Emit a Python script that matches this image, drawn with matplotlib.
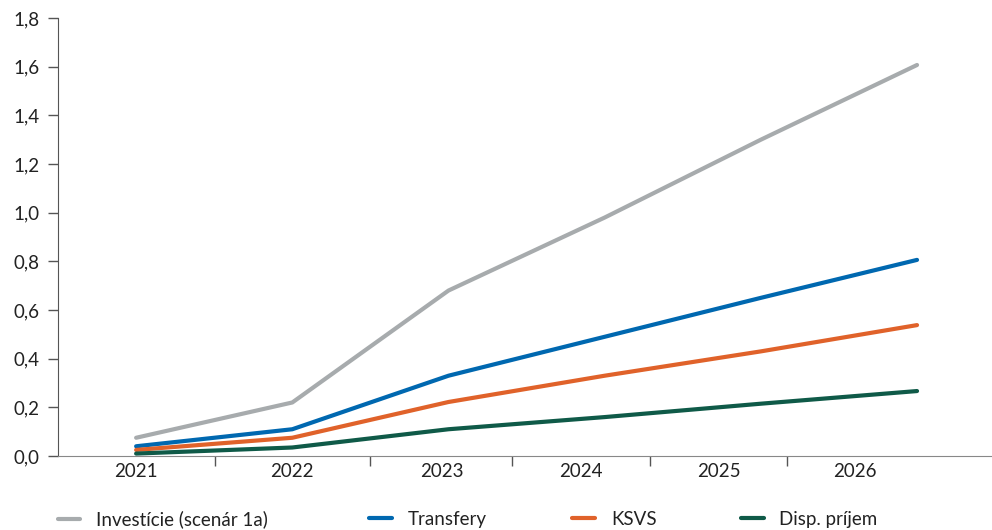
"""Vývoj efektov do roku 2026 - čiarový graf"""

import matplotlib.pyplot as plt
from matplotlib.lines import Line2D

plt.rcParams["font.family"] = ["Lato", "DejaVu Sans"]

# Údaje
roky = ["2021", "2022", "2023", "2024", "2025", "2026"]
investicie = [0.075, 0.22, 0.68, 0.98, 1.30, 1.607]
transfery = [0.04, 0.11, 0.33, 0.49, 0.65, 0.806]
ksvs = [0.025, 0.075, 0.222, 0.33, 0.43, 0.538]
disp_prijem = [0.01, 0.035, 0.11, 0.16, 0.215, 0.267]

nazvy = ["Investície (scenár 1a)", "Transfery", "KSVS", "Disp. príjem"]
farby = ["#A7ABAD", "#0068B0", "#E0622A", "#0F5A48"]

# Umiestnenie popisov a deliacich značiek osi x
pozicie_popisov = [0.0, 1.0, 1.96, 2.85, 3.73, 4.60]
pozicie_delenia = [0.505, 1.496, 2.404, 3.293, 4.169]

fig = plt.figure(figsize=(9.92, 5.30), dpi=100)
ax = fig.add_axes([0.0585, 0.1396, 0.9415, 0.8264])

x = range(len(roky))
for hodnoty, farba in zip([investicie, transfery, ksvs, disp_prijem], farby):
    ax.plot(x, hodnoty, color=farba, linewidth=3.0, solid_capstyle="round")

# Osi
ax.set_xlim(-0.5, 5.48)
ax.set_ylim(0, 1.8)
ax.set_yticks([i / 10 for i in range(0, 19, 2)])
ax.set_yticklabels([f"{i / 10:.1f}".replace(".", ",") for i in range(0, 19, 2)])

ax.set_xticks(pozicie_popisov)
ax.set_xticklabels(roky)
ax.set_xticks(pozicie_delenia, minor=True)
ax.tick_params(axis="x", which="major", length=0, pad=5, labelsize=13.5, labelcolor="#222222")
ax.tick_params(axis="x", which="minor", length=7, width=1, color="#555555")
ax.tick_params(axis="y", length=7, width=1, color="#555555", pad=6, labelsize=13.5, labelcolor="#222222")

ax.spines["top"].set_visible(False)
ax.spines["right"].set_visible(False)
ax.spines["left"].set_color("#555555")
ax.spines["bottom"].set_color("#888888")

# Legenda
pozicie_legendy = [0.058, 0.372, 0.577, 0.747]
for nazov, farba, px in zip(nazvy, farby, pozicie_legendy):
    fig.legend(
        handles=[Line2D([0], [0], color=farba, linewidth=3.0, solid_capstyle="round")],
        labels=[nazov],
        loc="center left",
        bbox_to_anchor=(px, 0.02),
        frameon=False,
        fontsize=13.5,
        handlelength=1.2,
        handletextpad=0.85,
        borderaxespad=0,
        borderpad=0,
        labelcolor="#222222",
    )

plt.savefig("out.png", dpi=100)
plt.close(fig)
